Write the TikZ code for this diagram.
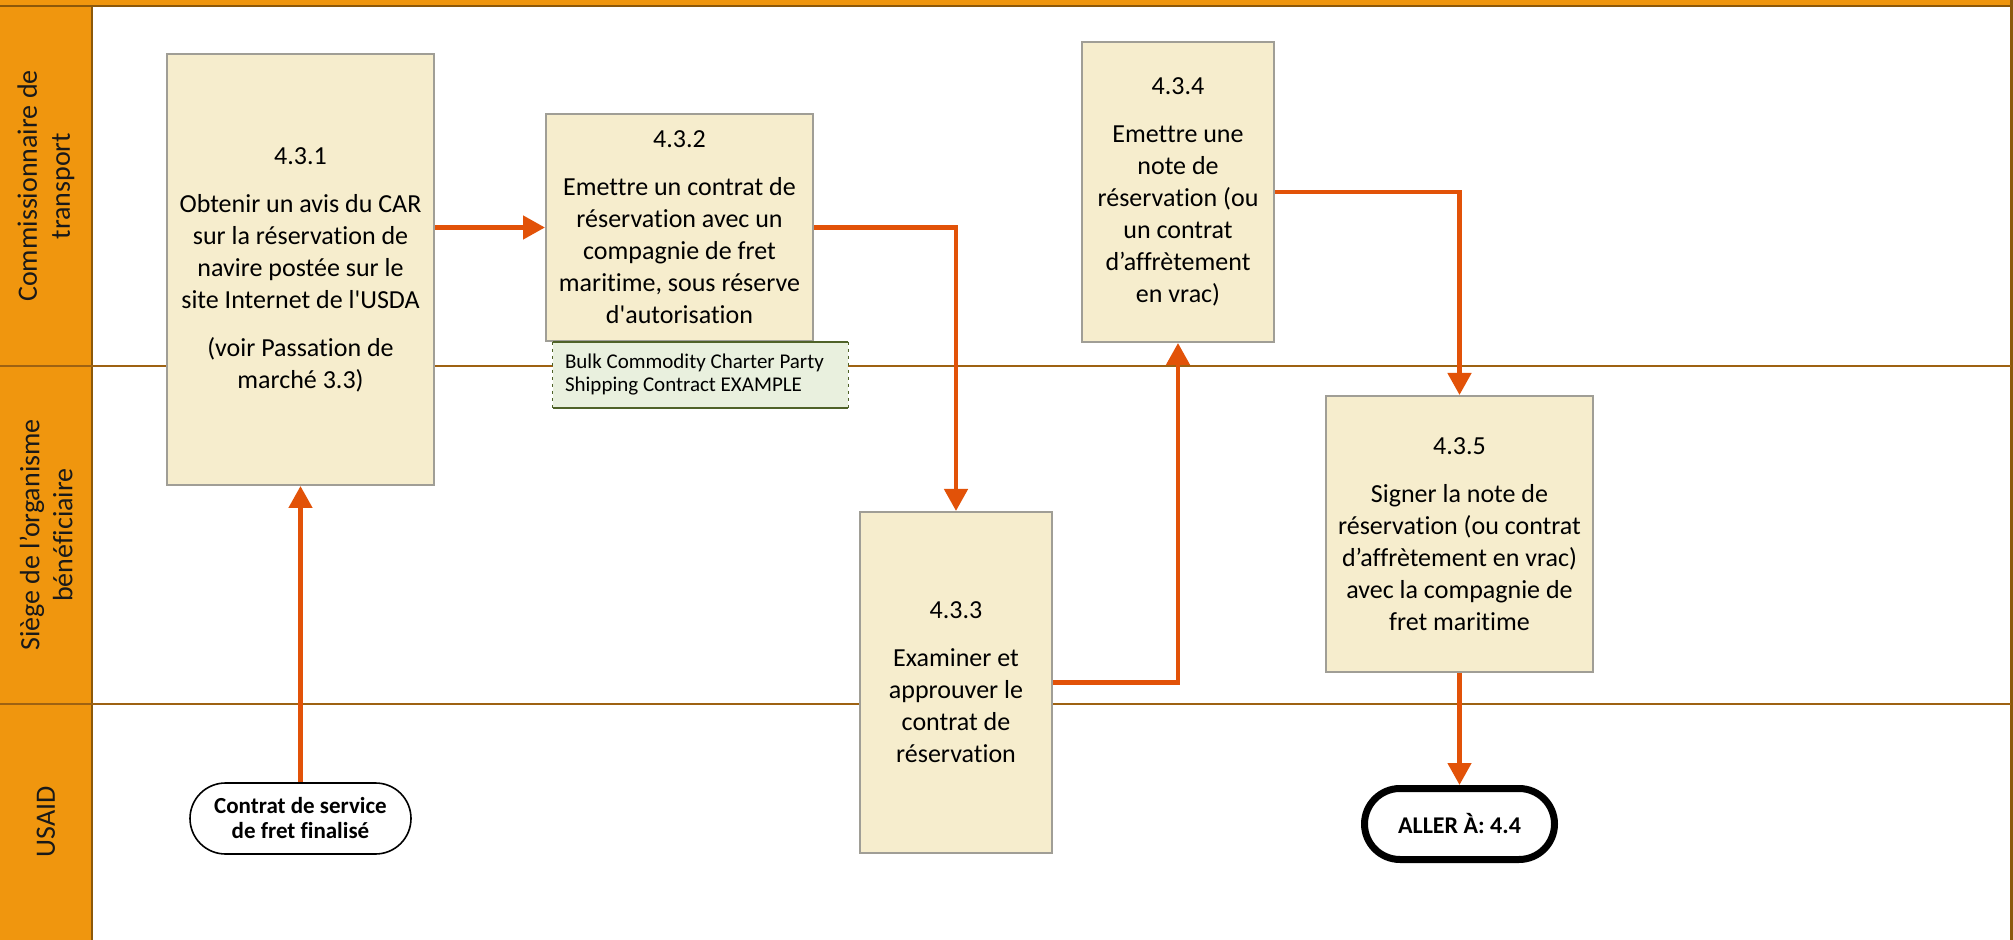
\documentclass[tikz,border=0pt]{standalone}
\usepackage{fontspec}
\setmainfont{Carlito}[Ligatures={TeXOff,CommonOff}]
\usetikzlibrary{arrows.meta,shapes.misc}

\definecolor{laneorange}{RGB}{240,150,14}
\definecolor{lanebrown}{RGB}{158,98,18}
\definecolor{edgebrown}{RGB}{140,88,10}
\definecolor{boxfill}{RGB}{246,237,205}
\definecolor{boxgray}{RGB}{160,158,150}
\definecolor{floworange}{RGB}{226,82,8}
\definecolor{notefill}{RGB}{233,240,222}
\definecolor{notegreen}{RGB}{79,98,40}

\begin{document}
\begin{tikzpicture}[x=0.5pt,y=-0.5pt,
  lanelabel/.style={rotate=90, align=center, text=black!90,
    font=\fontsize{14}{16.5}\selectfont},
  divider/.style={draw=lanebrown, line width=1pt},
  stepbox/.style={draw=boxgray, line width=1pt, fill=boxfill, inner sep=0pt,
    align=center, text=black, font=\fontsize{13}{16}\selectfont},
  notebox/.style={fill=notefill, inner sep=0pt, text=black,
    font=\fontsize{10.5}{11.5}\selectfont},
  terminal/.style={rounded rectangle, draw=black, fill=white, inner sep=0pt,
    align=center, text=black, font=\fontsize{11.5}{12.5}\selectfont\bfseries},
  flow/.style={draw=floworange, line width=2.3pt,
    -{Triangle[length=11pt,width=11.5pt]}}
]
\useasboundingbox (0,0) rectangle (2013,940);

% swimlane frame
\fill[white] (0,0) rectangle (2013,940);
\fill[laneorange] (0,0) rectangle (92,940);
\fill[laneorange] (0,0) rectangle (2013,6);
\draw[edgebrown, line width=1pt] (0,6) -- (2013,6);
\draw[edgebrown, line width=1pt] (92,6) -- (92,940);
\draw[edgebrown, line width=1.5pt] (2011.5,0) -- (2011.5,940);
\draw[divider] (0,366) -- (2011,366);
\draw[divider] (0,704) -- (2011,704);

% lane titles
\node[lanelabel] (laneA) at (46,186) {Commissionnaire de\\transport};
\node[lanelabel] (laneB) at (46,535) {Siège de l’organisme\\bénéficiaire};
\node[lanelabel] (laneC) at (46,822) {USAID};

% process steps
\node[stepbox, minimum width=133.5pt, minimum height=215.5pt] (n431) at (300.5,269.5)
  {4.3.1\\[8pt]Obtenir un avis du CAR\\sur la réservation de\\navire postée sur le\\site Internet de l'USDA\\[8pt](voir Passation de\\marché 3.3)};
\node[stepbox, minimum width=133.5pt, minimum height=113.5pt] (n432) at (679.5,227.5)
  {4.3.2\\[8pt]Emettre un contrat de\\réservation avec un\\compagnie de fret\\maritime, sous réserve\\d'autorisation};
\node[stepbox, minimum width=96pt, minimum height=170.5pt] (n433) at (956,682.5)
  {4.3.3\\[8pt]Examiner et\\approuver le\\contrat de\\réservation};
\node[stepbox, minimum width=96pt, minimum height=150pt] (n434) at (1178,192)
  {4.3.4\\[8pt]Emettre une\\note de\\réservation (ou\\un contrat\\d’affrètement\\en vrac)};
\node[stepbox, minimum width=133.5pt, minimum height=138pt] (n435) at (1459.5,534)
  {4.3.5\\[8pt]Signer la note de\\réservation (ou contrat\\d’affrètement en vrac)\\avec la compagnie de\\fret maritime};

% attached document note
\node[notebox, minimum width=147.5pt, minimum height=33pt] (note) at (700.5,375) {};
\node[notebox, fill=none, anchor=west, align=left] (notetext) at ([xshift=6pt]note.west)
  {Bulk Commodity Charter Party\\Shipping Contract EXAMPLE};
\draw[notegreen, line width=1pt] (note.north west) -- (note.north east);
\draw[notegreen, line width=1pt] (note.south west) -- (note.south east);
\draw[notegreen, line width=0.6pt, dash pattern=on 1.5pt off 2pt] (note.north west) -- (note.south west);
\draw[notegreen, line width=0.6pt, dash pattern=on 1.5pt off 2pt] (note.north east) -- (note.south east);

% start and end
\node[terminal, line width=0.8pt, minimum width=110.5pt, minimum height=35.5pt] (start) at (300.5,818.5)
  {Contrat de service\\de fret finalisé};
\node[terminal, line width=3.5pt, minimum width=95pt, minimum height=35.5pt,
  font=\fontsize{12}{14}\selectfont\bfseries] (goto) at (1459.5,824) {ALLER À: 4.4};

% flow
\draw[flow] (start.north) -- (n431.south);
\draw[flow] (n432.west -| n431.east) -- (n432.west);
\draw[flow] (n432.east) -| (n433.north);
\draw[flow] (n433.east) -| (n434.south);
\draw[flow] (n434.east) -| (n435.north);
\draw[flow] (n435.south) -- (goto.north);
\end{tikzpicture}
\end{document}
